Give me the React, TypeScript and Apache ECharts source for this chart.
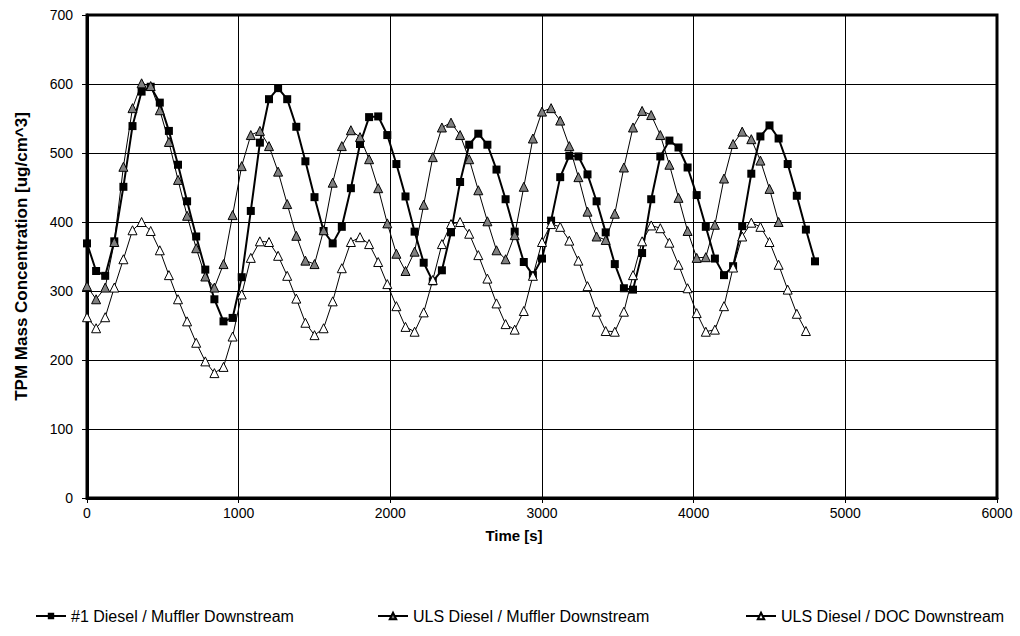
import React, { useEffect, useRef } from "react";
import * as echarts from "echarts";

const timeA = [0,60,120,180,240,300,360,420,480,540,600,660,720,780,840,900,960,1020,1080,1140,1200,1260,1320,1380,1440,1500,1560,1620,1680,1740,1800,1860,1920,1980,2040,2100,2160,2220,2280,2340,2400,2460,2520,2580,2640,2700,2760,2820,2880,2940,3000,3060,3120,3180,3240,3300,3360,3420,3480,3540,3600,3660,3720,3780,3840,3900,3960,4020,4080,4140,4200,4260,4320,4380,4440,4500,4560,4620,4680,4740,4800];

const diesel1Muffler = [369,329,322,372,451,539,589,596,573,532,483,430,379,331,288,256,261,320,416,515,578,594,578,538,488,436,387,369,393,449,513,552,553,526,484,437,386,341,314,330,385,458,512,528,512,476,433,386,342,323,347,402,465,496,495,469,430,385,339,304,302,355,433,495,518,508,479,439,393,347,323,336,394,470,524,540,521,484,438,389,343];

const ulsMuffler = [307,288,305,371,480,565,601,597,562,516,461,409,362,321,305,339,410,481,526,532,510,473,426,380,344,339,388,457,510,533,523,491,449,398,354,329,357,425,494,537,544,526,491,446,401,359,346,381,451,521,560,565,547,510,465,415,379,374,412,479,537,561,555,526,483,435,387,348,349,396,463,513,531,520,489,448,400];

const ulsDoc = [262,246,262,305,346,388,400,387,359,323,288,256,225,198,181,190,234,295,348,372,371,351,322,289,254,236,246,285,333,371,378,368,342,310,278,248,241,269,316,368,397,400,383,352,318,282,252,244,271,322,371,397,393,373,344,307,270,242,241,270,323,372,395,391,370,338,304,268,241,244,278,334,379,399,393,371,338,302,267,242];

const seriesNames = [
  "#1 Diesel / Muffler Downstream",
  "ULS Diesel / Muffler Downstream",
  "ULS Diesel / DOC Downstream",
];

const FONT = "'Liberation Sans', Arial, sans-serif";

function pairs(vals: number[]) {
  return vals.map((v, i) => [timeA[i], v]);
}

export default function App() {
  const ref = useRef<HTMLDivElement>(null);
  useEffect(() => {
    document.body.style.margin = "0";
    const chart = echarts.init(ref.current!, undefined, { renderer: "svg" });
    const legendBase = {
      orient: "horizontal",
      top: 603,
      itemWidth: 30,
      itemHeight: 8,
      itemGap: 4,
      textStyle: { fontFamily: FONT, fontSize: 16, color: "#000" },
      selectedMode: false,
    };
    chart.setOption({
      animation: false,
      backgroundColor: "#fff",
      grid: {
        left: 87,
        right: 23,
        top: 15,
        bottom: 138,
        show: true,
        borderColor: "#000",
        borderWidth: 3,
        backgroundColor: "#fff",
      },
      legend: [
        { ...legendBase, left: 30, data: [seriesNames[0]] },
        { ...legendBase, left: 372, data: [seriesNames[1]] },
        { ...legendBase, left: 740, data: [seriesNames[2]] },
      ],
      xAxis: {
        type: "value",
        min: 0,
        max: 6000,
        interval: 1000,
        name: "Time [s]",
        nameLocation: "middle",
        nameGap: 30,
        nameTextStyle: {
          fontFamily: FONT,
          fontSize: 15,
          fontWeight: "bold",
          color: "#000",
          padding: [0, 56, 0, 0],
        },
        axisLine: { show: true, lineStyle: { color: "#000", width: 3 } },
        axisTick: { show: true, length: 5, inside: false, lineStyle: { color: "#000" } },
        axisLabel: {
          fontFamily: FONT,
          fontSize: 14,
          color: "#000",
          margin: 8,
          formatter: (v: number) => String(v),
        },
        splitLine: { show: true, lineStyle: { color: "#000", width: 1 } },
      },
      yAxis: {
        type: "value",
        min: 0,
        max: 700,
        interval: 100,
        name: "TPM Mass Concentration [ug/cm^3]",
        nameLocation: "middle",
        nameGap: 57,
        nameTextStyle: { fontFamily: FONT, fontSize: 17, fontWeight: "bold", color: "#000" },
        axisLine: { show: true, lineStyle: { color: "#000", width: 3 } },
        axisTick: { show: true, length: 5, inside: false, lineStyle: { color: "#000" } },
        axisLabel: {
          fontFamily: FONT,
          fontSize: 14,
          color: "#000",
          margin: 14,
          formatter: (v: number) => String(v),
        },
        splitLine: { show: true, lineStyle: { color: "#000", width: 1 } },
      },
      series: [
        {
          name: seriesNames[0],
          type: "line",
          data: pairs(diesel1Muffler),
          symbol: "rect",
          symbolSize: 8,
          lineStyle: { color: "#000", width: 2 },
          itemStyle: { color: "#000", borderColor: "#000", borderWidth: 0 },
        },
        {
          name: seriesNames[1],
          type: "line",
          data: pairs(ulsMuffler),
          symbol: "triangle",
          symbolSize: 9,
          lineStyle: { color: "#000", width: 1 },
          itemStyle: { color: "#808080", borderColor: "#000", borderWidth: 1 },
        },
        {
          name: seriesNames[2],
          type: "line",
          data: pairs(ulsDoc),
          symbol: "triangle",
          symbolSize: 9,
          lineStyle: { color: "#000", width: 1 },
          itemStyle: { color: "#fff", borderColor: "#000", borderWidth: 1 },
        },
      ],
    });
    return () => chart.dispose();
  }, []);
  return (
    <div
      ref={ref}
      style={{ position: "fixed", left: 0, top: 0, width: 1020, height: 636 }}
    />
  );
}
